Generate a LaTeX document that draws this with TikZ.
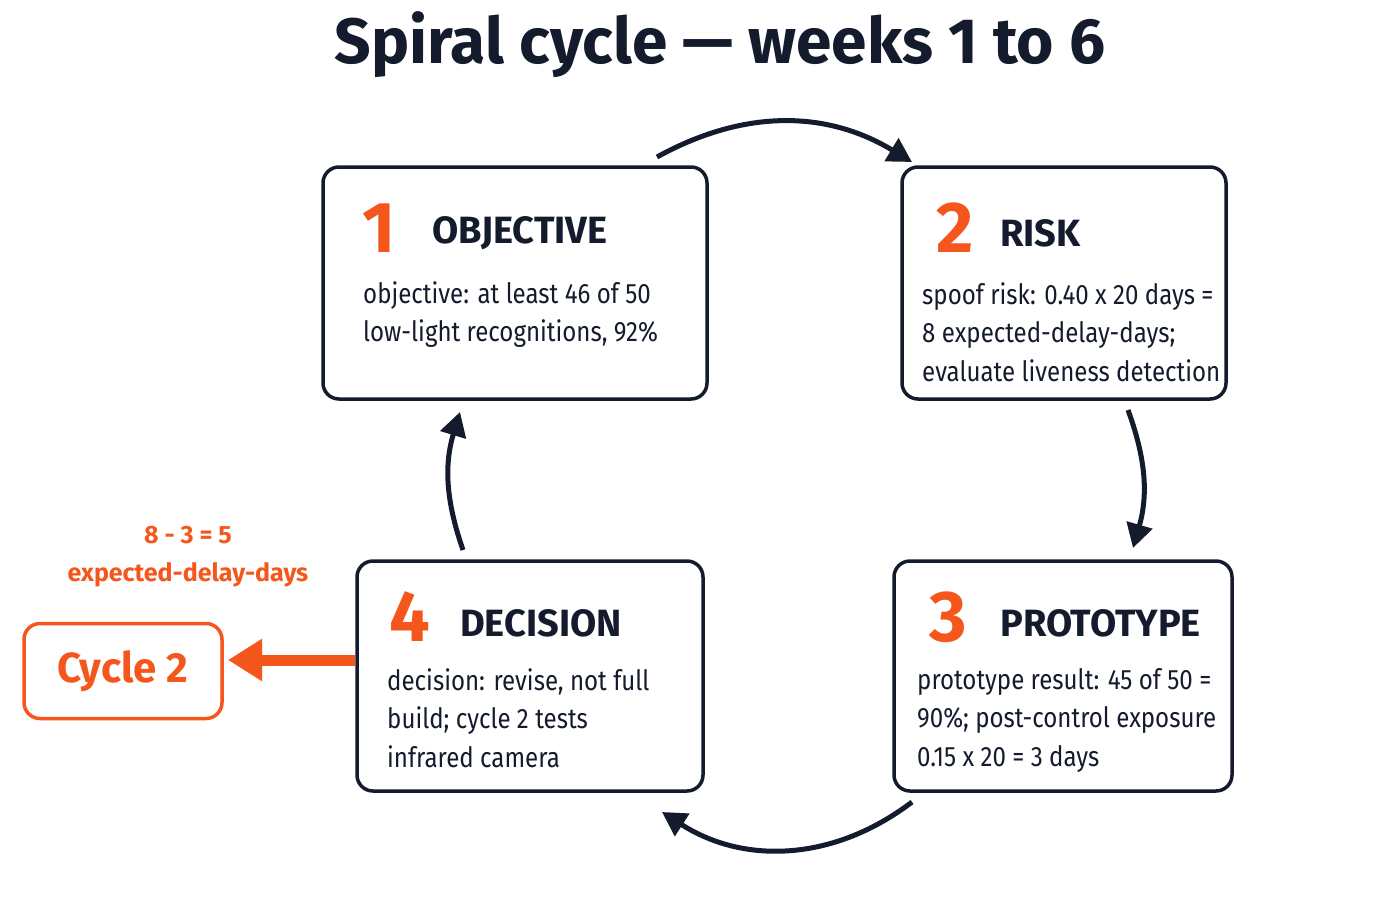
\documentclass[tikz,border=0pt]{standalone}
\usepackage{fontspec}
\setmainfont{Fira Sans}
\newfontfamily\bodyfont{Fira Sans}[FakeStretch=0.86]
\usetikzlibrary{arrows.meta}
\definecolor{ink}{HTML}{141B2D}
\definecolor{accent}{HTML}{F4561B}
\tikzset{>={Triangle[length=24pt,width=26pt]}}
\begin{document}
\begin{tikzpicture}[x=1pt,y=-1pt]
    % box = stage frame, num = stage number, head = stage title
    \tikzstyle{box}=[draw=ink, line width=3.5pt, rounded corners=16pt]
    \tikzstyle{num}=[anchor=west, text=accent, font=\fontsize{72}{72}\selectfont\bfseries, inner sep=0pt]
    \tikzstyle{head}=[anchor=west, text=ink, font=\fontsize{38}{38}\selectfont\bfseries, inner sep=0pt]
    \tikzstyle{body}=[anchor=north west, text=ink, align=left, inner sep=0pt,
        font=\bodyfont\fontsize{28}{38.5}\selectfont]
    \tikzstyle{loop}=[->, draw=ink, line width=5pt]
    \useasboundingbox (0,0) rectangle (1400,900);
    \node[text=ink, font=\fontsize{64}{64}\selectfont\bfseries] (title) at (720,45) {Spiral cycle — weeks 1 to 6};

    \draw[box] (323,167) rectangle (707,399);
    \node[num] (n1) at (362,228) {1};
    \node[head] (h1) at (432,233) {OBJECTIVE};
    \node[body] (b1) at (363,281) {objective: at least 46 of 50\\low-light recognitions, 92\%};

    \draw[box] (902,167) rectangle (1226,399);
    \node[num] (n2) at (936,228) {2};
    \node[head] (h2) at (1000,233) {RISK};
    \node[body] (b2) at (922,282) {spoof risk: 0.40 x 20 days =\\8 expected-delay-days;\\evaluate liveness detection};

    \draw[box] (894,561) rectangle (1232,791);
    \node[num] (n3) at (929,617) {3};
    \node[head] (h3) at (1000,623) {PROTOTYPE};
    \node[body] (b3) at (917,668) {prototype result: 45 of 50 =\\90\%; post-control exposure\\0.15 x 20 = 3 days};

    \draw[box] (357,561) rectangle (703,791);
    \node[num] (n4) at (389,617) {4};
    \node[head] (h4) at (460,623) {DECISION};
    \node[body] (b4) at (387,668) {decision: revise, not full\\build; cycle 2 tests\\infrared camera};

    \node[draw=accent, line width=3.5pt, rounded corners=16pt, minimum width=198pt, minimum height=95pt,
        text=accent, font=\fontsize{42}{42}\selectfont\bfseries] (cyc) at (123,671) {Cycle 2};
    \node[text=accent, align=center, font=\fontsize{25}{38}\selectfont\bfseries] (note) at (188,557)
        {8 - 3 = 5\\expected-delay-days};

    \coordinate (a1) at (657,157); \coordinate (a2) at (912,162);
    \coordinate (r1) at (1128,410); \coordinate (r2) at (1133,548);
    \coordinate (d1) at (912,802); \coordinate (d2) at (662,812);
    \coordinate (l1) at (463,550); \coordinate (l2) at (460,412);
    \coordinate (o1) at (355,660); \coordinate (o2) at (228,660);
    \draw[loop] (a1) to[bend left=30] (a2);
    \draw[loop] (r1) to[bend left=18] (r2);
    \draw[loop] (d1) to[bend left=35] (d2);
    \draw[loop] (l1) to[bend left=18] (l2);
    \draw[-{Triangle[length=34pt,width=40pt]}, draw=accent, line width=11pt] (o1) -- (o2);
\end{tikzpicture}
\end{document}
